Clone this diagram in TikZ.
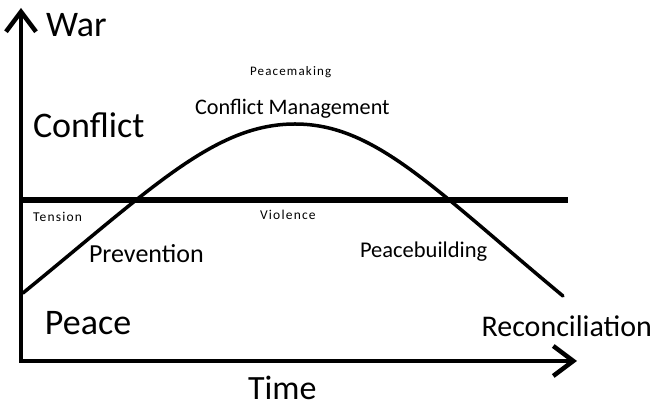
\documentclass[tikz,border=0pt]{standalone}
\usepackage{fontspec}
\setmainfont{Carlito}
\newfontfamily\tracked[LetterSpace=9]{Carlito}
\usepackage{tikz}
\usetikzlibrary{arrows.meta, positioning}

\begin{document}
\begin{tikzpicture}[
        x=1pt, y=1pt,
        axis/.style={line width=4pt, {Straight Barb[length=20pt, width=30pt, line width=4.5pt]}-{Straight Barb[length=20pt, width=30pt, line width=4.5pt]}},
        threshold/.style={line width=5.5pt},
        wave/.style={line width=3.5pt, line cap=round},
        label/.style={anchor=base west, inner sep=0pt, outer sep=0pt},
        big/.style={label, font=\fontsize{36}{40}\selectfont},
        mid/.style={label, font=\fontsize{22.2}{26}\selectfont},
        tiny/.style={label, font=\tracked\fontsize{13.5}{16}\selectfont}
    ]
    \useasboundingbox (0,0) rectangle (654,409);

    % axes
    \coordinate (ytop) at (21,401);
    \coordinate (xend) at (577,48);
    \draw [axis] (ytop) |- (xend);

    % line between tension and violence
    \coordinate (tl) at (19,209);
    \coordinate (tr) at (568,209);
    \draw [threshold] (tl) -- (tr);

    % the conflict curve
    \coordinate (cstart) at (23,116);
    \coordinate (cpeak) at (295,285);
    \coordinate (cend) at (563,113);
    \draw [wave] (cstart) .. controls (153,222) and (215,285) .. (cpeak)
                          .. controls (375,285) and (433,221) .. (cend);

    % labels
    \node [big] (war) at (46,372) {War};
    \node [big] (conflict) at (33,271) {Conflict};
    \node [big] (peace) at (45,74) {Peace};
    \node [label, font=\fontsize{34}{38}\selectfont] (time) at (248,9) {Time};
    \node [label, anchor=base east, font=\fontsize{30}{34}\selectfont] (recon) at (652,72) {Reconciliation};

    \node [tiny, font=\tracked\fontsize{13}{16}\selectfont] (making) at (250,333) {Peacemaking};
    \node [mid] (manage) at (195,294) {Conflict Management};
    \node [tiny] (tension) at (33,187) {Tension};
    \node [tiny] (violence) at (260,189) {Violence};
    \node [label, font=\fontsize{26}{30}\selectfont] (prevent) at (89,146) {Prevention};
    \node [label, font=\fontsize{22.5}{26}\selectfont] (build) at (360,151) {Peacebuilding};

\end{tikzpicture}
\end{document}
